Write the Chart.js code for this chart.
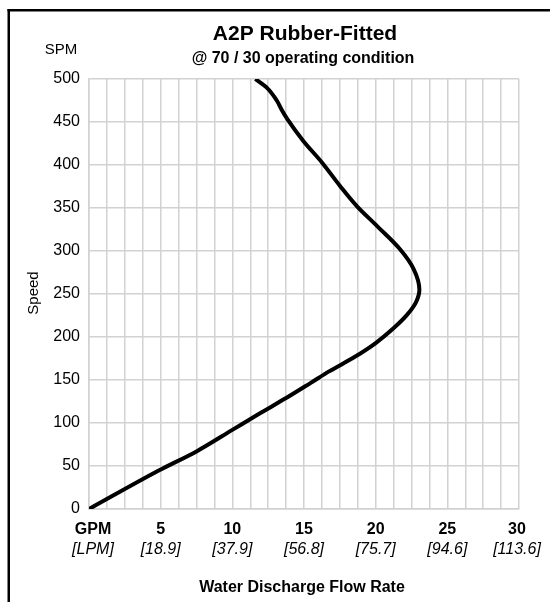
<!DOCTYPE html>
<html>
<head>
<meta charset="utf-8">
<style>
html,body{margin:0;padding:0;background:#fff;}
#wrap{width:550px;height:602px;position:relative;}
</style>
</head>
<body>
<div id="wrap"><canvas id="c" width="550" height="602"></canvas></div>
<script src="https://cdn.jsdelivr.net/npm/chart.js@4/dist/chart.umd.min.js"></script>
<script>
// ---- data ----
const speedSPM = [0, 45, 67, 92, 111, 129, 147, 160, 177, 193, 211, 226, 240, 255, 279, 302, 329, 352, 376, 403, 428, 453, 464, 475, 490, 500];
const flowGPM  = [0, 4.9, 7.5, 10.0, 11.9, 13.75, 15.5, 16.75, 18.55, 20.0, 21.3, 22.2, 22.8, 23.05, 22.65, 21.7, 20.1, 18.7, 17.5, 16.25, 14.95, 13.85, 13.45, 13.1, 12.4, 11.6];
const gpmTicks  = [0, 5, 10, 15, 20, 25, 30];
const gpmLabels = ['GPM', '5', '10', '15', '20', '25', '30'];
const lpmLabels = ['[LPM]', '[18.9]', '[37.9]', '[56.8]', '[75.7]', '[94.6]', '[113.6]'];
const titleText = 'A2P Rubber-Fitted';
const subtitleText = '@ 70 / 30 operating condition';
const yUnitText = 'SPM';
const yTitleText = 'Speed';
const xTitleText = 'Water Discharge Flow Rate';

const FONT = "'Liberation Sans', Arial, Helvetica, sans-serif";
const points = speedSPM.map((s, i) => ({x: flowGPM[i], y: s}));

const textPlugin = {
  id: 'texts',
  afterDraw(chart) {
    const ctx = chart.ctx;
    const xs = chart.scales.x;
    ctx.save();
    // frame
    ctx.fillStyle = '#000';
    ctx.fillRect(7.5, 9, 2.5, 593);
    ctx.fillRect(7.5, 9, 542.5, 2.5);
    // title
    ctx.textAlign = 'center';
    ctx.textBaseline = 'alphabetic';
    ctx.font = 'bold 21px ' + FONT;
    ctx.fillText(titleText, 305, 40);
    ctx.font = 'bold 16px ' + FONT;
    ctx.fillText(subtitleText, 303, 63);
    // SPM
    ctx.font = '15px ' + FONT;
    ctx.fillText(yUnitText, 61, 54);
    // Speed
    ctx.save();
    ctx.translate(38, 293);
    ctx.rotate(-Math.PI / 2);
    ctx.font = '15px ' + FONT;
    ctx.fillText(yTitleText, 0, 0);
    ctx.restore();
    // x tick labels
    gpmTicks.forEach((v, i) => {
      let px = xs.getPixelForValue(v);
      if (i === 0) px += 4;
      if (i === gpmTicks.length - 1) px -= 2;
      ctx.font = 'bold 16px ' + FONT;
      ctx.fillText(gpmLabels[i], px, 533.5);
      ctx.font = 'italic 16px ' + FONT;
      ctx.fillText(lpmLabels[i], px, 554);
    });
    // x title
    ctx.font = 'bold 16px ' + FONT;
    ctx.fillText(xTitleText, 302, 592);
    ctx.restore();
  }
};

new Chart(document.getElementById('c'), {
  type: 'line',
  data: {
    datasets: [{
      data: points,
      borderColor: '#000',
      borderWidth: 4,
      pointRadius: 0,
      cubicInterpolationMode: 'monotone',
      fill: false
    }]
  },
  options: {
    indexAxis: 'y',
    responsive: false,
    animation: false,
    layout: {padding: {top: 79, right: 31, left: 0, bottom: 0}},
    plugins: {legend: {display: false}, tooltip: {enabled: false}, title: {display: false}},
    scales: {
      x: {
        type: 'linear', min: 0, max: 30,
        ticks: {display: false, stepSize: 1.25},
        grid: {color: '#d2d2d2', lineWidth: 1.5, drawTicks: false},
        border: {color: '#d2d2d2', width: 1.5},
        afterFit: s => { s.height = 93; }
      },
      y: {
        type: 'linear', min: 0, max: 500,
        ticks: {
          stepSize: 25, padding: 9, color: '#000',
          font: {family: FONT, size: 16},
          callback: v => (v % 50 === 0 ? String(v) : '')
        },
        grid: {color: '#d2d2d2', lineWidth: 1.5, drawTicks: false},
        border: {color: '#d2d2d2', width: 1.5},
        afterFit: s => { s.width = 89; }
      }
    }
  },
  plugins: [textPlugin]
});
</script>
</body>
</html>
